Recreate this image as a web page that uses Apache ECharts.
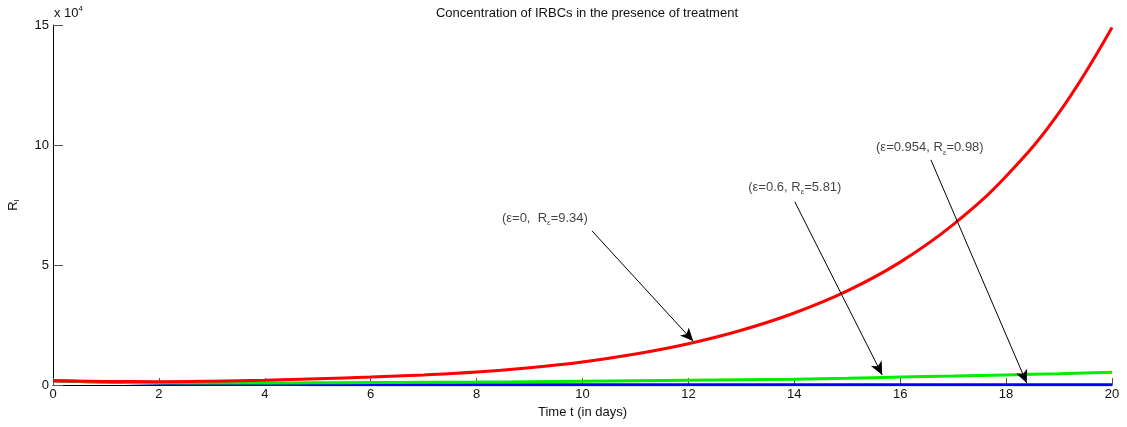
<!DOCTYPE html>
<html style="height: 100%">

<head>
    <meta charset="utf-8">
    <script src="https://cdn.jsdelivr.net/npm/echarts@6/dist/echarts.min.js"></script>
</head>

<body style="height: 100%; margin: 0">
    <div id="chart" style="width: 1127px; height: 427px"></div>
    <script type="text/javascript">
        // time in days, concentrations in units of 10^4
        var days = [0, 1, 2, 3, 4, 5, 6, 7, 8, 9, 10, 11, 12, 13, 14, 15, 16, 17, 18, 19, 20];
        var eps0 = [0.18, 0.15, 0.14, 0.16, 0.20, 0.26, 0.33, 0.42, 0.54, 0.72, 0.96, 1.29, 1.72, 2.28, 3.0, 3.92, 5.12, 6.68, 8.7, 11.35, 14.9];
        var eps06 = [0.18, 0.12, 0.09, 0.08, 0.08, 0.09, 0.10, 0.11, 0.12, 0.14, 0.16, 0.18, 0.20, 0.22, 0.24, 0.28, 0.33, 0.37, 0.42, 0.47, 0.53];
        var eps0954 = [0.18, 0.12, 0.07, 0.04, 0.02, 0.015, 0.01, 0.01, 0.01, 0.01, 0.01, 0.01, 0.01, 0.01, 0.01, 0.01, 0.01, 0.01, 0.01, 0.01, 0.01];

        // annotations (data coords): text position, arrow start, arrow end
        var noteText = [
            ['(ε=0,  R{sub|ε}=9.34)', 9.29, 6.96],
            ['(ε=0.6, R{sub|ε}=5.81)', 14.01, 8.25],
            ['(ε=0.954, R{sub|ε}=0.98)', 16.56, 9.88]
        ];
        var noteArrows = [
            [[10.18, 6.42], [12.09, 1.83]],
            [[14.01, 7.63], [15.66, 0.42]],
            [[16.58, 9.38], [18.39, 0.08]]
        ];

        function pairs(ys) {
            return days.map(function (d, i) { return [d, ys[i]]; });
        }

        var font = 'Liberation Sans';
        var myChart = echarts.init(document.getElementById('chart'));
        myChart.setOption({
            animation: false,
            textStyle: { fontFamily: font },
            title: {
                text: 'Concentration of IRBCs in the presence of treatment',
                left: 582,
                textAlign: 'center',
                top: 2,
                textStyle: { fontSize: 13, fontWeight: 'normal', color: '#111', fontFamily: font }
            },
            graphic: [{
                type: 'text',
                left: 54,
                top: 5,
                style: {
                    text: 'x 10{sup|4}',
                    fontSize: 13,
                    fontFamily: font,
                    fill: '#111',
                    rich: { sup: { fontSize: 8, padding: [0, 0, 8, 0], fontFamily: font } }
                }
            }],
            grid: { left: 53, right: 15, top: 25, bottom: 42, outerBoundsMode: 'none', containLabel: false },
            xAxis: {
                type: 'value',
                min: 0,
                max: 20,
                interval: 2,
                name: 'Time t (in days)',
                nameLocation: 'middle',
                nameGap: 18,
                nameTextStyle: { fontSize: 13, color: '#111' },
                axisLine: { onZero: false, lineStyle: { color: '#000', width: 1 } },
                axisTick: { inside: true, length: 7, lineStyle: { color: '#555' } },
                axisLabel: { fontSize: 13, color: '#111', margin: 3 },
                splitLine: { show: false }
            },
            yAxis: {
                type: 'value',
                min: 0,
                max: 15,
                interval: 5,
                name: 'R{sub|I}',
                nameLocation: 'middle',
                nameGap: 32,
                nameTextStyle: {
                    fontSize: 13,
                    color: '#111',
                    rich: { sub: { fontSize: 8, padding: [8, 0, 0, 0] } }
                },
                axisLine: { show: true, lineStyle: { color: '#000', width: 1 } },
                axisTick: { show: true, inside: true, length: 10, lineStyle: { color: '#555' } },
                axisLabel: { fontSize: 13, color: '#111', margin: 4 },
                splitLine: { show: false }
            },
            series: [{
                type: 'line',
                data: pairs(eps0954),
                smooth: 0.4,
                symbol: 'none',
                lineStyle: { color: '#0000ff', width: 3 }
            }, {
                type: 'line',
                data: pairs(eps06),
                smooth: 0.4,
                symbol: 'none',
                lineStyle: { color: '#00ee00', width: 3 }
            }, {
                type: 'line',
                data: pairs(eps0),
                smooth: 0.4,
                symbol: 'none',
                lineStyle: { color: '#ff0000', width: 3 },
                markLine: {
                    silent: true,
                    symbol: ['none', 'arrow'],
                    symbolSize: [9, 13],
                    label: { show: false },
                    lineStyle: { color: '#000', width: 1, type: 'solid' },
                    data: noteArrows.map(function (a) {
                        return [{ coord: a[0] }, { coord: a[1] }];
                    })
                }
            }, {
                type: 'scatter',
                symbolSize: 0,
                silent: true,
                data: noteText.map(function (n) { return { value: [n[1], n[2]], name: n[0] }; }),
                label: {
                    show: true,
                    position: 'inside',
                    formatter: function (p) { return p.name; },
                    fontSize: 13,
                    color: '#111',
                    fontFamily: font,
                    rich: { sub: { fontSize: 8, padding: [9, 0, 0, 0], fontFamily: font, color: '#111' } }
                }
            }]
        });
    </script>
</body>

</html>
